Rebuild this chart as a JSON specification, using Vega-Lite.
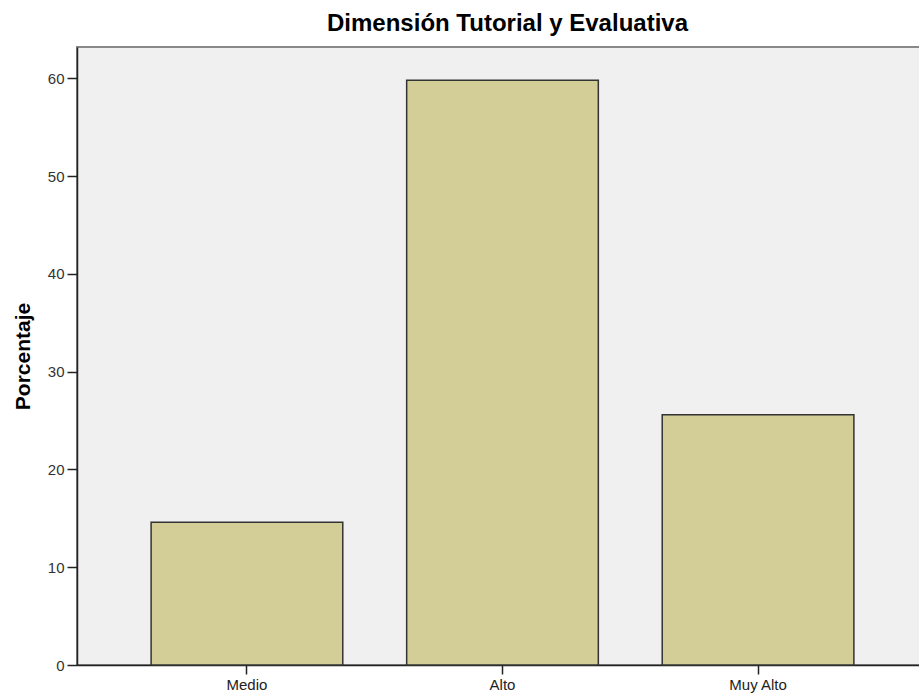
{
  "$schema": "https://vega.github.io/schema/vega-lite/v6.json",
  "autosize": {"type": "none"},
  "padding": {"left": 77, "top": 47, "right": 0, "bottom": 29},
  "width": 851,
  "height": 618,
  "background": "white",
  "title": {
    "text": "Dimensión Tutorial y Evaluativa",
    "font": "Liberation Sans",
    "fontSize": 24,
    "fontWeight": "bold",
    "color": "#000000",
    "anchor": "middle",
    "frame": "group",
    "dx": 5,
    "offset": 11
  },
  "data": {
    "values": [
      {"categoria": "Medio", "porcentaje": 14.6},
      {"categoria": "Alto", "porcentaje": 59.8},
      {"categoria": "Muy Alto", "porcentaje": 25.6}
    ]
  },
  "mark": {"type": "bar", "fill": "#d3ce97", "stroke": "#333333", "strokeWidth": 1.5},
  "encoding": {
    "x": {
      "field": "categoria",
      "type": "nominal",
      "sort": ["Medio", "Alto", "Muy Alto"],
      "scale": {"paddingInner": 0.25, "paddingOuter": 0.29},
      "axis": {
        "title": null,
        "labelAngle": 0,
        "labelFont": "Liberation Sans",
        "labelFontSize": 15,
        "labelColor": "#222222",
        "labelPadding": 3,
        "tickSize": 9,
        "tickColor": "#222222",
        "tickWidth": 1.5,
        "domainColor": "#222222",
        "domainWidth": 1.5
      }
    },
    "y": {
      "field": "porcentaje",
      "type": "quantitative",
      "scale": {"domain": [0, 63.2], "nice": false},
      "axis": {
        "title": "Porcentaje",
        "titleFont": "Liberation Sans",
        "titleFontSize": 21,
        "titleFontWeight": "bold",
        "titleColor": "#000000",
        "titlePadding": 14,
        "values": [0, 10, 20, 30, 40, 50, 60],
        "grid": false,
        "labelFont": "Liberation Sans",
        "labelFontSize": 15,
        "labelColor": "#333333",
        "labelPadding": 3,
        "tickSize": 10,
        "tickColor": "#222222",
        "tickWidth": 1.5,
        "domainColor": "#222222",
        "domainWidth": 1.5
      }
    }
  },
  "config": {
    "view": {"fill": "#f0f0f0", "stroke": "#888888", "strokeWidth": 2}
  }
}
